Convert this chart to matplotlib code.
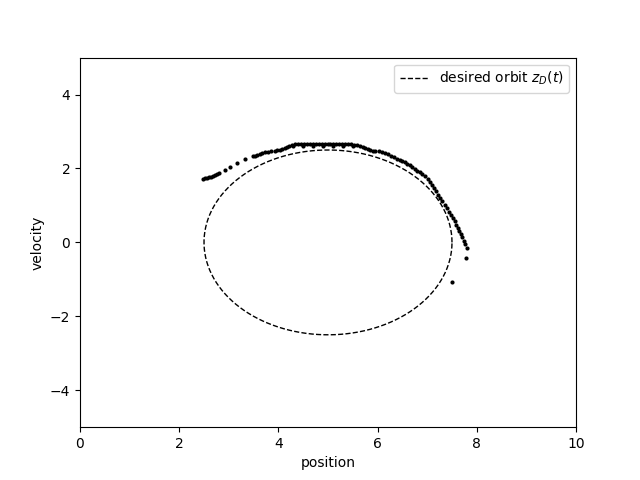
import numpy as np
import matplotlib
matplotlib.use("Agg")
import matplotlib.pyplot as plt

# observed trajectory samples (position, velocity)
position = [2.48, 2.52, 2.56, 2.60, 2.64, 2.68, 2.72, 2.76, 2.80, 2.92, 3.02, 3.17, 3.33,
            3.49, 3.53, 3.57, 3.62, 3.67, 3.73, 3.79, 3.86, 3.93, 3.98, 4.03, 4.08, 4.13, 4.17, 4.21,
            4.27, 4.33, 4.39, 4.45, 4.51, 4.57, 4.63, 4.69, 4.75, 4.81, 4.87, 4.93, 4.99,
            5.05, 5.11, 5.17, 5.23, 5.29, 5.35, 5.41, 5.47, 5.53, 5.59, 5.65,
            4.30, 4.50, 4.70, 4.90, 5.10, 5.30, 5.50,
            5.70, 5.75, 5.80, 5.85, 5.90, 5.95, 6.02, 6.09, 6.15, 6.21, 6.27, 6.33, 6.39, 6.45,
            6.50, 6.55, 6.60, 6.65, 6.70, 6.75, 6.80, 6.85, 6.90, 6.96, 7.01, 7.06, 7.10,
            7.14, 7.18, 7.22, 7.26, 7.30, 7.35, 7.40, 7.44, 7.48, 7.52, 7.56, 7.59, 7.62,
            7.65, 7.68, 7.71, 7.74, 7.77, 7.80, 7.78, 7.50]
velocity = [1.72, 1.74, 1.75, 1.76, 1.78, 1.80, 1.82, 1.85, 1.88, 1.96, 2.04, 2.15, 2.26,
            2.34, 2.35, 2.36, 2.39, 2.42, 2.44, 2.45, 2.46, 2.47, 2.49, 2.50, 2.52, 2.55, 2.58, 2.61,
            2.64, 2.65, 2.65, 2.65, 2.65, 2.65, 2.65, 2.65, 2.65, 2.65, 2.65, 2.65, 2.65,
            2.65, 2.65, 2.65, 2.65, 2.65, 2.65, 2.65, 2.65, 2.64, 2.63, 2.61,
            2.60, 2.60, 2.60, 2.60, 2.60, 2.60, 2.60,
            2.57, 2.55, 2.52, 2.50, 2.48, 2.47, 2.46, 2.45, 2.42, 2.39, 2.35, 2.31, 2.27, 2.23,
            2.20, 2.17, 2.13, 2.09, 2.03, 1.98, 1.94, 1.90, 1.85, 1.79, 1.71, 1.63, 1.55,
            1.47, 1.38, 1.28, 1.20, 1.11, 1.02, 0.92, 0.83, 0.73, 0.65, 0.57, 0.48, 0.38,
            0.30, 0.22, 0.14, 0.05, -0.04, -0.14, -0.41, -1.06]

# desired orbit parameters
center_x, center_y = 5.0, 0.0
radius_x, radius_y = 2.5, 2.5

fig, ax = plt.subplots(figsize=(6.4, 4.8), dpi=100)
ax.scatter(position, velocity, s=9, c='k', linewidths=0)
t = np.linspace(0, 2 * np.pi, 400)
ax.plot(center_x + radius_x * np.cos(t), center_y + radius_y * np.sin(t),
        'k--', lw=1, label='desired orbit $z_D(t)$')
ax.set_xlim(0, 10)
ax.set_ylim(-5, 5)
ax.set_xlabel('position')
ax.set_ylabel('velocity')
ax.legend(loc='upper right')
fig.savefig('out.png', dpi=100)
